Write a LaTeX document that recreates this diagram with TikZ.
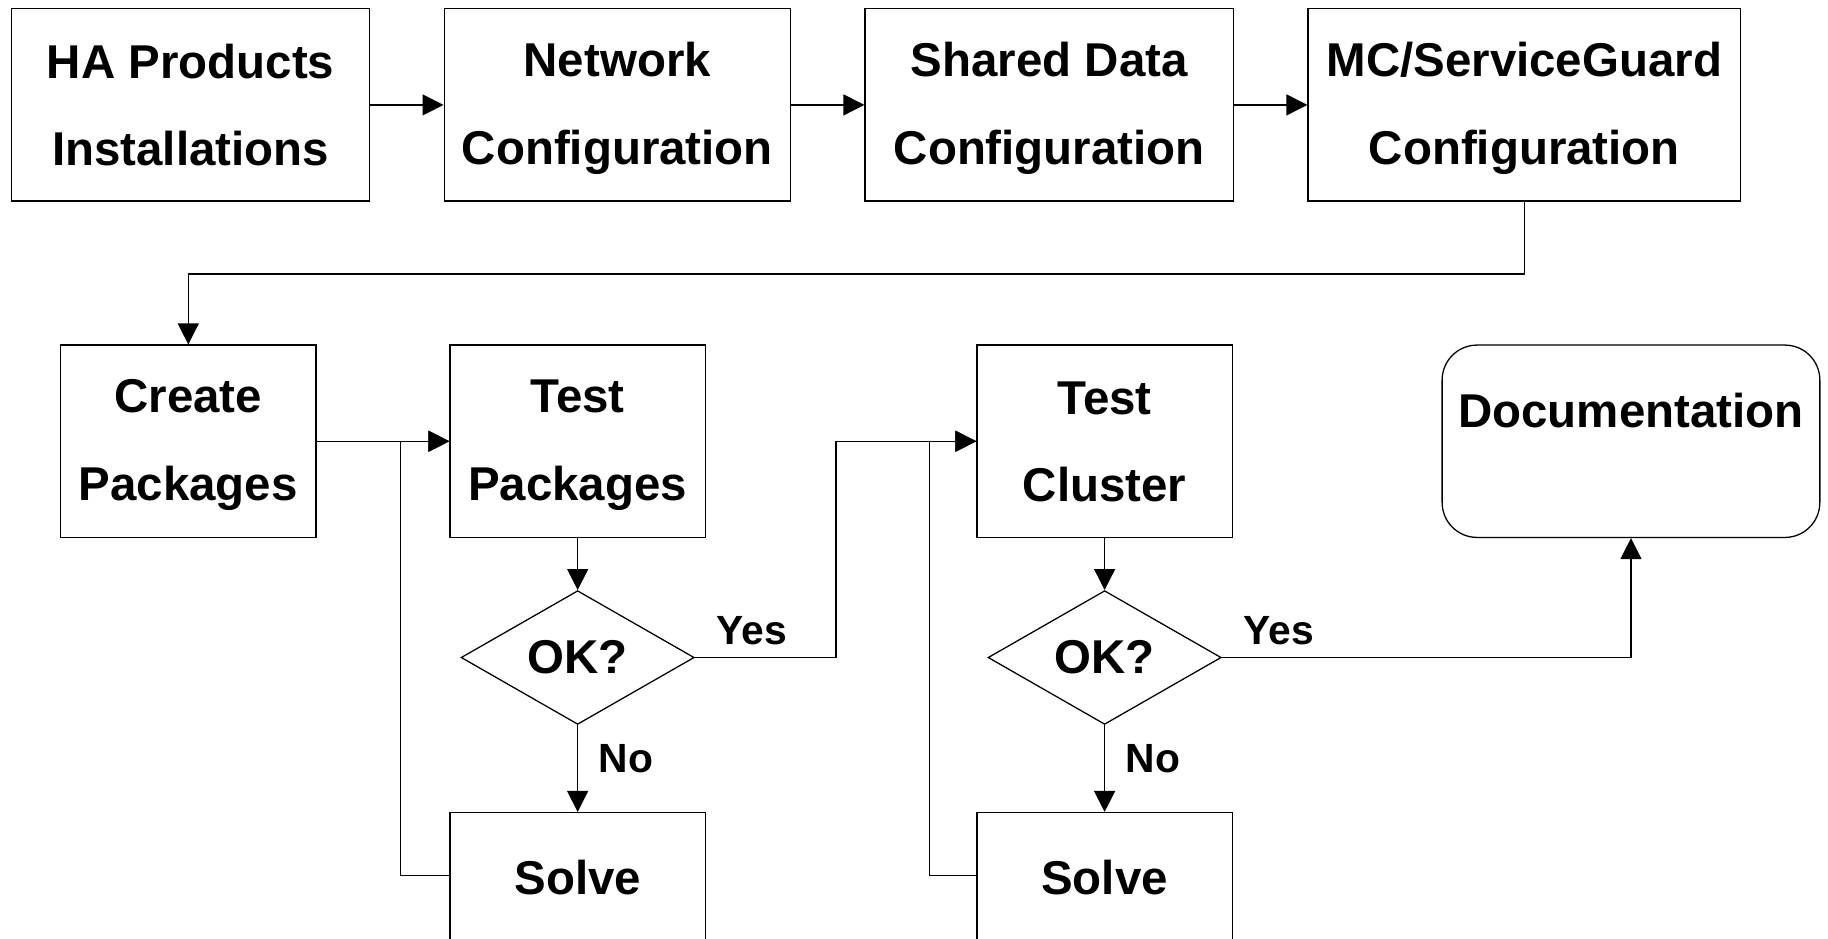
\documentclass[tikz,border=0pt]{standalone}
\usepackage{fontspec}
\setmainfont{Liberation Sans}
\usetikzlibrary{arrows.meta,shapes.geometric}
% strut used on every line of the two-line boxes so they sit alike
\newcommand\ls{\rule[-6pt]{0pt}{41pt}}
\begin{document}
\begin{tikzpicture}[x=1pt,y=-1pt,
  every node/.style={inner sep=0pt},
  lw/.style={line width=1.1pt},
  bigtext/.style={font=\fontsize{40.7}{75}\selectfont\bfseries},
  smalltext/.style={font=\fontsize{35}{40}\selectfont\bfseries},
  box/.style={draw, lw, rectangle, minimum height=165pt, align=center, bigtext},
  topline/.style={text height=30pt, text depth=54pt},
  decision/.style={draw, lw, diamond, minimum width=200pt, minimum height=108pt, bigtext},
  arr/.style={lw, -{Triangle[length=18pt,width=18pt]}},
  conn/.style={lw}]
\useasboundingbox (0,0) rectangle (1568,805);
\clip (0,0) rectangle (1568,805);

% first row
\node[box, minimum width=307pt] (b1) at (163.5,90) {\ls HA Products\\\ls Installations};
\node[box, minimum width=297pt] (b2) at (529.5,90) {\ls Network\\\ls Configuration};
\node[box, minimum width=316pt] (b3) at (900,90) {\ls Shared Data\\\ls Configuration};
\node[box, minimum width=371pt] (b4) at (1307.5,90) {\ls MC/ServiceGuard\\\ls Configuration};

% second row
\node[box, minimum width=219pt] (create) at (161.5,378.5) {\ls Create\\\ls Packages};
\node[box, minimum width=219pt] (testpk) at (495.5,378.5) {\ls Test\\\ls Packages};
\node[box, minimum width=219pt] (testcl) at (947.5,378.5) {\ls Test\\\ls Cluster};
\node[box, topline, minimum width=324pt, rounded corners=30pt] (doc) at (1399,378.5) {Documentation};

% decisions
\node[decision] (dia1) at (495.5,564) {OK?};
\node[decision] (dia2) at (947.5,564) {OK?};

% solve boxes
\node[box, topline, minimum width=219pt] (solve1) at (495.5,779.5) {Solve};
\node[box, topline, minimum width=219pt] (solve2) at (947.5,779.5) {Solve};

% branch labels
\node[smalltext] (yes1) at (645,541) {Yes};
\node[smalltext] (no1) at (537,651) {No};
\node[smalltext] (yes2) at (1097,541) {Yes};
\node[smalltext] (no2) at (989,651) {No};

% connectors
\draw[arr] (b1) -- (b2);
\draw[arr] (b2) -- (b3);
\draw[arr] (b3) -- (b4);
\draw[arr] (b4.south) -- ++(0,62) -| (create.north);
\draw[arr] (create) -- (testpk);
\draw[arr] (testpk) -- (dia1);
\draw[arr] (dia1) -- (solve1);
\draw[arr] (dia1.east) -- ++(121,0) |- (testcl.west);
\draw[arr] ([yshift=28.5pt]solve1.west) -- ++(-42,0) |- (testpk.west);
\draw[arr] (testcl) -- (dia2);
\draw[arr] (dia2) -- (solve2);
\draw[arr] ([yshift=28.5pt]solve2.west) -- ++(-40,0) |- (testcl.west);
\draw[arr] (dia2.east) -| (doc.south);
\end{tikzpicture}
\end{document}
